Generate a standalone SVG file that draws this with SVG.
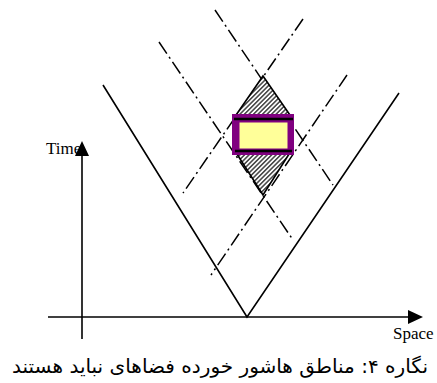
<svg xmlns="http://www.w3.org/2000/svg" width="437" height="383" viewBox="0 0 437 383">
<style>
.solid{stroke:#000;stroke-width:1.6;fill:none}
.dd{stroke:#000;stroke-width:1.5;fill:none;stroke-dasharray:14 4 2 4}
.lbl{font-family:"Liberation Serif","Times New Roman",serif;font-size:17px;fill:#000}
.cap{font-family:"DejaVu Sans","Noto Sans",sans-serif;font-size:19.5px;fill:#000}
.head{fill:#000}
</style>
<defs>
<pattern id="hatch" patternUnits="userSpaceOnUse" width="3.2" height="3.2" patternTransform="rotate(45)">
<rect width="3.2" height="3.2" fill="#fff"/>
<line x1="0.8" y1="0" x2="0.8" y2="3.2" stroke="#333" stroke-width="1.4"/>
</pattern>
</defs>
<rect width="437" height="383" fill="#fff"/>
<g id="axes">
<line class="solid" x1="82" y1="339" x2="82" y2="150"/>
<polygon class="head" points="82,141 75,156 89,156"/>
<line class="solid" x1="48" y1="317" x2="412" y2="317"/>
<polygon class="head" points="423,317 408,310 408,324"/>
</g>
<g id="labels">
<text class="lbl" x="46" y="154">Time</text>
<text class="lbl" x="393" y="339">Space</text>
</g>
<g id="cone">
<polyline class="solid" points="103,85 247,317 399,93"/>
</g>
<g id="connectors">
<line class="dd" x1="215" y1="10" x2="333" y2="185"/>
<line class="dd" x1="303" y1="19" x2="183" y2="193"/>
<line class="dd" x1="159" y1="42" x2="293" y2="240"/>
<line class="dd" x1="347" y1="75" x2="211" y2="275"/>
</g>
<g id="hatched">
<polygon points="263,76 292,118 234,118" fill="url(#hatch)" stroke="#000" stroke-width="1.6"/>
<polygon points="235,151 291,151 263,195" fill="url(#hatch)" stroke="#000" stroke-width="1.6"/>
</g>
<g id="box">
<rect x="232" y="114" width="62" height="41" fill="#800080"/>
<rect x="239.5" y="122.5" width="48" height="26" fill="#ffff99"/>
<line x1="234" y1="119" x2="293" y2="119" stroke="#000" stroke-width="2.5"/>
<line x1="235" y1="151" x2="292" y2="151" stroke="#000" stroke-width="2.5"/>
</g>
<g id="caption">
<text class="cap" x="220" y="373" text-anchor="middle" direction="rtl" textLength="416" lengthAdjust="spacingAndGlyphs">نگاره ۴: مناطق هاشور خورده فضاهای نباید هستند</text>
</g>
</svg>
